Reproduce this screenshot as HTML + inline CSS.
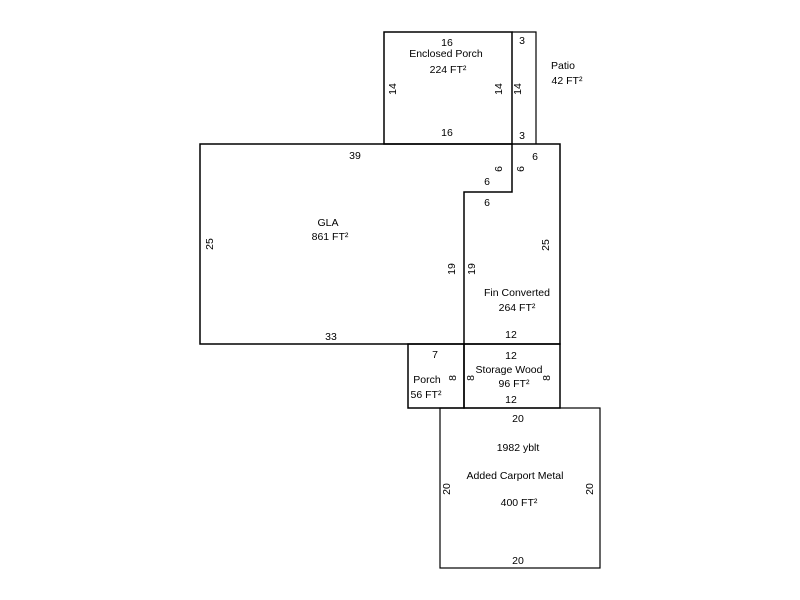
<!DOCTYPE html>
<html><head><style>html,body{margin:0;padding:0;background:#fff;}svg{display:block}</style></head>
<body>
<svg width="800" height="600" xmlns="http://www.w3.org/2000/svg" font-family="Liberation Sans, Arial, sans-serif" font-size="10.5" fill="#000">
<g fill="none" stroke="#000" stroke-width="1.5">
<rect x="384" y="32" width="128" height="112"/>
<polyline points="512,32 536,32 536,144" stroke-width="1.2"/>
<polygon points="200,144 512,144 512,192 464,192 464,344 200,344"/>
<polyline points="512,144 560,144 560,344 464,344"/>
<rect x="408" y="344" width="56" height="64"/>
<rect x="464" y="344" width="96" height="64"/>
<rect x="440" y="408" width="160" height="160" stroke-width="1.2"/>
</g>
<g text-anchor="middle" dominant-baseline="central" transform="translate(0,1)">
<text x="447" y="42">16</text>
<text x="446" y="53">Enclosed Porch</text>
<text x="448" y="69">224 FT²</text>
<text x="447" y="132">16</text>
<text x="522" y="40">3</text>
<text x="522" y="135">3</text>
<text x="563" y="65">Patio</text>
<text x="567" y="80">42 FT²</text>
<text x="355" y="155">39</text>
<text x="535" y="156">6</text>
<text x="487" y="181">6</text>
<text x="487" y="202">6</text>
<text x="328" y="222">GLA</text>
<text x="330" y="236">861 FT²</text>
<text x="517" y="292">Fin Converted</text>
<text x="517" y="307">264 FT²</text>
<text x="511" y="334">12</text>
<text x="331" y="336">33</text>
<text x="435" y="354">7</text>
<text x="511" y="355">12</text>
<text x="427" y="379">Porch</text>
<text x="426" y="394">56 FT²</text>
<text x="509" y="369">Storage Wood</text>
<text x="514" y="383">96 FT²</text>
<text x="511" y="399">12</text>
<text x="518" y="418">20</text>
<text x="518" y="447">1982 yblt</text>
<text x="515" y="475">Added Carport Metal</text>
<text x="519" y="502">400 FT²</text>
<text x="518" y="560">20</text>
<text transform="translate(393,88) rotate(-90)">14</text>
<text transform="translate(499,88) rotate(-90)">14</text>
<text transform="translate(518,88) rotate(-90)">14</text>
<text transform="translate(521,168) rotate(-90)">6</text>
<text transform="translate(499,168) rotate(-90)">6</text>
<text transform="translate(210,243) rotate(-90)">25</text>
<text transform="translate(452,268) rotate(-90)">19</text>
<text transform="translate(472,268) rotate(-90)">19</text>
<text transform="translate(546,244) rotate(-90)">25</text>
<text transform="translate(453,377) rotate(-90)">8</text>
<text transform="translate(471,377) rotate(-90)">8</text>
<text transform="translate(547,377) rotate(-90)">8</text>
<text transform="translate(447,488) rotate(-90)">20</text>
<text transform="translate(590,488) rotate(-90)">20</text>
</g>
</svg>
</body></html>
